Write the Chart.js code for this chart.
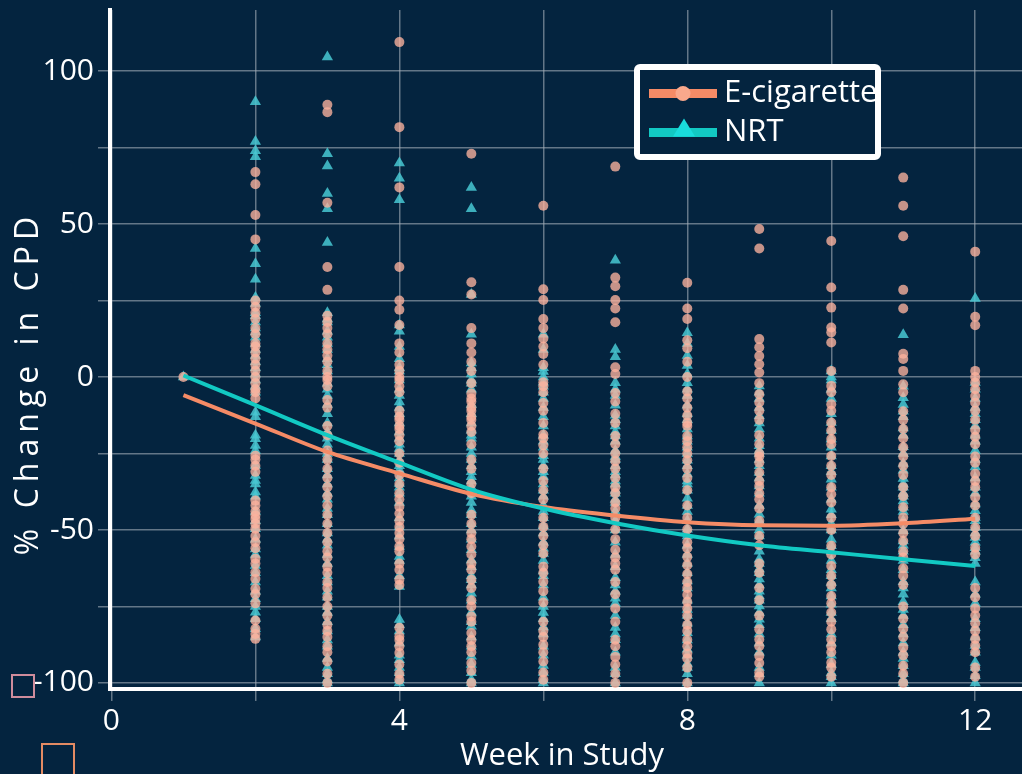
<!DOCTYPE html>
<html>
<head>
<meta charset="utf-8">
<script src="https://cdn.jsdelivr.net/npm/chart.js@4.4.1/dist/chart.umd.min.js"></script>
<style>
  html, body { margin: 0; padding: 0; background: #04243f; overflow: hidden; }
  #wrap { width: 1022px; height: 774px; position: relative; }
</style>
</head>
<body>
<div id="wrap"><canvas id="chart" width="1022" height="774"></canvas></div>
<script>
// ---- data: % change in cigarettes per day, by week in study ----
const seriesNames = ['E-cigarette', 'NRT'];
const weeks = [1, 2, 3, 4, 5, 6, 7, 8, 9, 10, 11, 12];

const ecigW1 = [0];
const ecigW2 = [67, 63, 53, 45, 25, 23, 21, 19, 16, 14, 11, 10, 8, 6, 4, 2, 0, -2, -4, -5, -7, -25.7, -27, -29, -31, -40.4, -42, -44, -45.3, -46.4, -48, -49.6, -52, -54, -56, -59.4, -61, -63.8, -66, -69.2, -71, -74, -79.6, -82.3, -84, -85.6];
const ecigW3 = [89, 86.6, 57, 36, 28.5, 20, 18, 16, 14, 11, 9, 7, 5, 2, 0, -1, -3, -7.5, -10, -16, -19, -24, -27, -30, -33, -36, -39, -42, -45, -48, -51, -54, -57, -59, -62, -64, -67, -69, -72, -75, -78, -81, -83, -85, -88, -90, -93, -97, -100];
const ecigW4 = [109.5, 81.7, 62, 36, 25, 22, 17, 11, 8, 4, 2, 0, -1, -3, -5, -11, -13, -14, -16, -17, -19, -21, -25, -28, -32, -35, -38, -40, -42.4, -44.6, -47, -49, -51, -53, -55.4, -57, -61, -63, -66.3, -68, -82, -84.8, -86, -88, -90.2, -94, -97, -99];
const ecigW5 = [73, 31, 27, 16, 11, 8, 5, 2, -2, -5.4, -7, -8, -10, -11, -13, -14, -16, -18, -22, -27, -30, -35, -38, -45, -48, -51, -53, -55.4, -58, -61, -63, -66.3, -69, -73, -75, -78.3, -80, -83.7, -86, -88, -90, -93.5, -96, -100];
const ecigW6 = [56, 28.7, 25.2, 19, 16, 12.6, 10, 7.5, 4, -1.7, -3, -5, -8.5, -11, -15, -18.8, -20, -22.3, -25, -30, -34, -37, -40, -46, -49, -52, -55, -57.7, -62, -64, -66.9, -70, -73.7, -80, -83, -85, -87.5, -90, -93, -96.6, -99];
const ecigW7 = [68.8, 32.5, 29.7, 25.2, 22.4, 17.9, 3.2, 1, -5.2, -8, -12, -15, -19.3, -22, -25, -27.5, -30, -33, -36, -38, -41, -43, -46, -49.8, -53, -56.5, -59, -61, -63, -67, -71, -75.7, -80, -85.9, -88, -91.5, -94, -97, -100];
const ecigW8 = [30.8, 22.4, 19, 12, 9.4, 5, 0, -4.7, -7, -10, -12.6, -15, -16, -19.3, -21, -23, -25, -27.2, -30, -33, -37, -42, -46, -49.8, -54, -56, -58.8, -61.5, -64.4, -67, -69, -71.2, -73.5, -75.7, -78, -81, -83, -85.9, -88, -90.4, -92, -95, -100];
const ecigW9 = [48.4, 42, 12.4, 9.7, 6.9, 4.2, 1.5, -2, -5.6, -8.3, -11, -14, -19, -22, -25, -26, -28, -31.2, -34, -35.6, -38, -40, -43, -47, -52, -55, -61, -64, -69, -73, -78, -82.5, -85.8, -88, -91.2, -93.5, -96.7, -98];
const ecigW10 = [44.5, 29.3, 22.7, 16.2, 14.6, 11.3, 2, -2.9, -5, -8.9, -11, -14.9, -17.5, -20.3, -22, -25.8, -29, -32, -36, -38.3, -41, -46, -50, -55.2, -58, -61.8, -65, -68, -71.6, -74, -77, -80, -82.5, -85.8, -88, -90, -93.4, -95, -98];
const ecigW11 = [65.2, 56, 46, 28.5, 22.4, 7.6, 5.9, 2, -2.4, -5, -11.2, -14, -17, -20, -23, -26, -29, -32, -36, -39, -42.6, -45.9, -48, -51, -53.6, -57, -59, -62.5, -65, -68, -75, -79, -82.3, -85, -88.4, -91, -94.4, -97, -100];
const ecigW12 = [41, 19.7, 16.9, 2, 0, -1.8, -4, -6.2, -8.4, -11, -14, -17.3, -19.5, -22, -26, -28, -31.6, -34, -36, -39.3, -42, -46, -49.2, -52, -55.8, -58, -69, -72, -75.7, -78, -80.5, -83, -85.6, -87.8, -90, -95, -98];

const nrtW1 = [0];
const nrtW2 = [90, 77, 74, 72, 42, 37, 32, 26, 24, 21, 20, 18, 16, 14.7, 13, 11, 9, 7, 5, 3, 1, -1, -3, -5, -11.5, -13, -19, -20.2, -22.4, -24, -28.9, -32.2, -33.8, -35, -37.6, -39, -44, -47, -49.6, -53, -56.2, -58, -61.6, -64, -67, -70, -72.5, -75, -76.9, -79, -82.3, -85];
const nrtW3 = [104.6, 73, 69, 60, 55, 44, 21, 19, 18, 15, 13, 11, 9, 6, 4, 2, -2, -4, -6, -9, -12, -15, -18, -20, -22, -25, -27, -30, -32, -35, -38, -40, -43, -45, -48, -51, -53, -55, -58, -61, -65, -67, -70, -72, -75, -77, -80, -83, -86, -88, -92, -95, -97, -99, -100];
const nrtW4 = [70, 65, 58, 17, 15, 10, 6, 3, 2, -1, -4, -6, -8.2, -10, -12, -15, -18, -20, -22, -23.4, -25, -27.2, -29, -30.4, -33, -34.8, -36, -38, -41, -46, -49, -52, -55.4, -58.7, -60, -65, -68.5, -79.3, -81, -83, -87, -91, -92.4, -95, -96.7, -99, -100];
const nrtW5 = [62, 55, 27, 14, 4.6, 3, 1, -1, -2, -4, -9, -12, -15, -17.4, -19, -20, -23, -25, -27, -29, -31, -32.6, -34, -36, -39, -41, -43.5, -45, -48, -50, -53, -56.5, -59.8, -62, -65, -66.3, -68, -70.7, -73, -77, -80, -81.5, -85, -88, -91.3, -94, -96.7, -99, -100];
const nrtW6 = [14, 9, 3, 1.8, 0, -1.7, -3, -5, -7, -10, -13, -16, -19, -21, -23, -25.7, -27, -29, -31, -32.5, -35, -37, -39, -42, -44, -46, -48.6, -51, -54, -56, -57.7, -60, -63.4, -65, -68, -72, -75, -77, -79, -81.7, -84, -88, -91, -94.3, -96.6, -99, -100];
const nrtW7 = [38.2, 9, 6.6, -1.9, -4, -6, -9.2, -12.5, -14, -16, -18, -19.3, -21, -24, -26, -27, -29, -31, -32, -34, -35, -37, -38, -40, -41, -44, -47, -50, -54, -58, -62, -65.6, -68, -70, -72.3, -74, -78, -81.9, -84, -85.9, -90, -95, -97, -100];
const nrtW8 = [14.5, 11, 7, 3.8, 1, -1.9, -4, -6, -9.2, -12, -14, -17, -19.3, -21, -23, -25, -27.2, -29, -31.7, -34, -35, -37, -39.6, -42, -44, -47, -49.8, -52, -55, -58, -61, -64, -66.7, -69, -73, -76, -78, -80.5, -83.6, -86, -89, -91, -93.7, -95, -97, -100];
const nrtW9 = [-2.9, -5, -7, -10, -12.7, -15, -17, -20, -22.5, -24, -25, -27, -29, -31.2, -33, -35.6, -38, -42, -44.9, -47, -50, -52, -57, -59.6, -61, -62.8, -64, -66, -68, -70, -71.6, -73, -74.9, -77, -79.2, -81, -84, -87, -90, -95, -97, -100];
const nrtW10 = [2, 0, -1, -4, -7, -12, -14.9, -17.5, -20.3, -23, -25.8, -29, -31, -33.4, -36, -40, -43.2, -45, -48, -50, -53, -55.2, -57, -60, -63, -65, -67.2, -69, -71.6, -74.3, -77, -79, -84, -87, -91, -94, -96.7, -98, -100];
const nrtW11 = [13.8, -3, -6.8, -9, -11.2, -13, -16.7, -19, -22.8, -25, -28.3, -30.5, -33.2, -35, -36, -38, -39, -40.5, -42.6, -44, -47, -50.3, -53.6, -55, -57, -60, -63, -66.9, -69, -71, -73.5, -76, -78, -81, -84, -87, -90, -92, -94.4, -97, -99, -100];
const nrtW12 = [25.7, -1.8, -4, -7, -10, -12, -14, -16, -19, -21, -24, -27, -29.4, -33, -36, -38, -41.5, -43.7, -45.9, -47, -49.2, -51, -52.5, -54, -55.8, -57, -59.1, -61, -67, -71, -74, -79, -82, -85, -87.8, -90, -93.3, -95, -97.7, -100];

// smoothed trend of each arm, one value per week
const ecigTrend = [-5.9, -15.2, -24.5, -31.5, -38.2, -42.5, -45.3, -47.5, -48.5, -48.6, -47.8, -46.3];
const nrtTrend = [0.5, -9.2, -19, -28, -36.8, -43, -47.8, -51.8, -55, -57.3, -59.6, -61.8];

// axis ticks
const xTicks = [0, 2, 4, 6, 8, 10, 12];
const xLabelled = [0, 4, 8, 12];
const yTicks = [-100, -75, -50, -25, 0, 25, 50, 75, 100];
const yLabelled = [-100, -50, 0, 50, 100];
const xTitle = 'Week in Study';
const yTitle = '% Change in CPD';

// ---- build the chart ----
const ecigByWeek = [ecigW1, ecigW2, ecigW3, ecigW4, ecigW5, ecigW6, ecigW7, ecigW8, ecigW9, ecigW10, ecigW11, ecigW12];
const nrtByWeek = [nrtW1, nrtW2, nrtW3, nrtW4, nrtW5, nrtW6, nrtW7, nrtW8, nrtW9, nrtW10, nrtW11, nrtW12];
const toPoints = (byWeek) => byWeek.flatMap((vals, i) => vals.map(v => ({ x: weeks[i], y: v })));
const toLine = (vals) => vals.map((v, i) => ({ x: weeks[i], y: v }));

const BG = '#04243f';
const FONT = '"Open Sans", "Noto Sans", sans-serif';
const ECIG_LINE = '#f58b66';
const ECIG_PT = 'rgba(253, 178, 158, 0.78)';
const NRT_LINE = '#12c9c3';
const NRT_PT = 'rgba(72, 200, 210, 0.85)';
const GRID = 'rgba(165, 175, 185, 0.6)';

const backgroundPlugin = {
  id: 'bg',
  beforeDraw(chart) {
    const ctx = chart.ctx;
    ctx.save();
    ctx.fillStyle = BG;
    ctx.fillRect(0, 0, chart.width, chart.height);
    ctx.restore();
  }
};

const decorPlugin = {
  id: 'decor',
  afterDraw(chart) {
    const ctx = chart.ctx;
    ctx.save();
    // axis titles
    ctx.fillStyle = '#ffffff';
    ctx.font = '31px ' + FONT;
    ctx.textAlign = 'center';
    ctx.textBaseline = 'alphabetic';
    ctx.fillText(xTitle, 562, 765);
    ctx.save();
    ctx.font = '32px ' + FONT;
    ctx.letterSpacing = '6px';
    ctx.translate(38, 383);
    ctx.rotate(-Math.PI / 2);
    ctx.fillText(yTitle, 0, 0);
    ctx.restore();

    // small outlined squares in the lower-left corner
    ctx.lineWidth = 2;
    ctx.strokeStyle = '#cf8c9c';
    ctx.strokeRect(12, 675, 22, 22);
    ctx.strokeStyle = '#e48b63';
    ctx.strokeRect(42, 744, 32, 34);

    // legend box
    const bx = 637, by = 67, bw = 241, bh = 90;
    ctx.fillStyle = BG;
    ctx.beginPath();
    ctx.roundRect(bx, by, bw, bh, 3);
    ctx.fill();
    ctx.lineWidth = 6;
    ctx.strokeStyle = '#ffffff';
    ctx.stroke();

    const rows = [
      { name: seriesNames[0], color: ECIG_LINE, marker: 'circle', y: 93.5 },
      { name: seriesNames[1], color: NRT_LINE, marker: 'triangle', y: 132.5 }
    ];
    rows.forEach(r => {
      ctx.strokeStyle = r.color;
      ctx.lineWidth = 9;
      ctx.lineCap = 'butt';
      ctx.beginPath();
      ctx.moveTo(649, r.y);
      ctx.lineTo(717, r.y);
      ctx.stroke();
      if (r.marker === 'circle') {
        ctx.fillStyle = '#f9a88c';
        ctx.beginPath();
        ctx.arc(683, r.y, 7.5, 0, Math.PI * 2);
        ctx.fill();
      } else {
        ctx.fillStyle = '#19dcdc';
        ctx.beginPath();
        ctx.moveTo(684, r.y - 14);
        ctx.lineTo(695, r.y + 4);
        ctx.lineTo(673, r.y + 4);
        ctx.closePath();
        ctx.fill();
      }
      ctx.fillStyle = '#ffffff';
      ctx.font = '31px ' + FONT;
      ctx.textAlign = 'left';
      ctx.textBaseline = 'middle';
      ctx.fillText(r.name, 724, r.y);
    });
    ctx.restore();
  }
};

new Chart(document.getElementById('chart'), {
  data: {
    datasets: [
      {
        type: 'line', label: seriesNames[1] + ' trend', data: toLine(nrtTrend),
        borderColor: NRT_LINE, borderWidth: 4, pointRadius: 0, tension: 0.4,
        cubicInterpolationMode: 'monotone', fill: false, order: 0
      },
      {
        type: 'line', label: seriesNames[0] + ' trend', data: toLine(ecigTrend),
        borderColor: ECIG_LINE, borderWidth: 4, pointRadius: 0, tension: 0.4,
        cubicInterpolationMode: 'monotone', fill: false, order: 1
      },
      {
        type: 'scatter', label: seriesNames[0], data: toPoints(ecigByWeek),
        pointStyle: 'circle', pointRadius: 5, backgroundColor: ECIG_PT,
        borderWidth: 0, order: 2
      },
      {
        type: 'scatter', label: seriesNames[1], data: toPoints(nrtByWeek),
        pointStyle: 'triangle', pointRadius: 6.5, backgroundColor: NRT_PT,
        borderWidth: 0, order: 3
      }
    ]
  },
  options: {
    responsive: false,
    animation: false,
    devicePixelRatio: 1,
    layout: { autoPadding: false, padding: { top: 10, right: 0, bottom: 0, left: 0 } },
    plugins: { legend: { display: false }, tooltip: { enabled: false } },
    scales: {
      x: {
        type: 'linear', position: 'bottom', min: -0.02, max: 12.65,
        afterBuildTicks: s => { s.ticks = xTicks.map(v => ({ value: v })); },
        afterFit: s => { s.height = 85; s.paddingLeft = 0; s.paddingRight = 0; },
        grid: { color: GRID, lineWidth: 1.5, drawTicks: true, tickLength: 12, tickColor: GRID },
        border: { display: true, color: '#ffffff', width: 4 },
        ticks: {
          color: '#ffffff', font: { family: FONT, size: 30 }, padding: 2, maxRotation: 0,
          autoSkip: false,
          callback: v => (xLabelled.includes(v) ? String(v) : '')
        }
      },
      y: {
        type: 'linear', position: 'left', min: -102, max: 120,
        afterBuildTicks: s => { s.ticks = yTicks.map(v => ({ value: v })); },
        afterFit: s => { s.width = 110; s.paddingTop = 0; s.paddingBottom = 0; },
        grid: { color: GRID, lineWidth: 1.5, drawTicks: true, tickLength: 12, tickColor: GRID },
        border: { display: true, color: '#ffffff', width: 4 },
        ticks: {
          color: '#ffffff', font: { family: FONT, size: 30 }, padding: 4,
          autoSkip: false,
          callback: v => (yLabelled.includes(v) ? String(v) : '')
        }
      }
    }
  },
  plugins: [backgroundPlugin, decorPlugin]
});
</script>
</body>
</html>
